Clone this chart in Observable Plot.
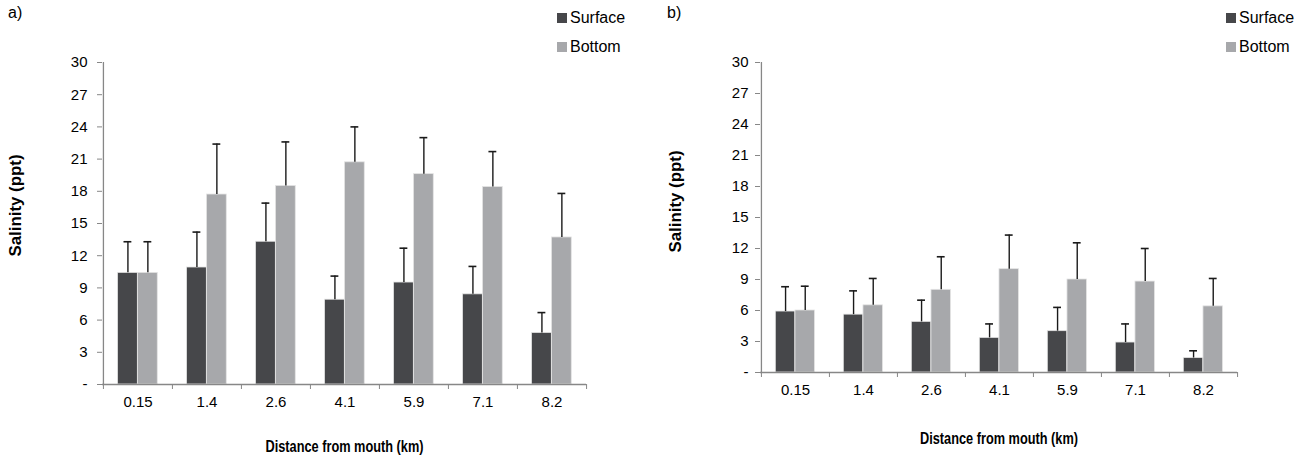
<!DOCTYPE html>
<html>
<head>
<meta charset="utf-8">
<script src="https://cdn.jsdelivr.net/npm/d3@7"></script>
<script src="https://cdn.jsdelivr.net/npm/@observablehq/plot@0.6"></script>
<style>
  html, body { margin: 0; padding: 0; background: #fff; }
  #wrap { position: relative; width: 1299px; height: 461px; font-family: "Liberation Sans", Arial, sans-serif; color: #000; overflow: hidden; }
  .panel { position: absolute; top: 0; }
  .plabel { position: absolute; font-size: 16px; line-height: 18px; }
  .leg { position: absolute; font-size: 16px; line-height: 18px; white-space: nowrap; }
  .sw { position: absolute; width: 10px; height: 10px; }
</style>
</head>
<body>
<div id="wrap"></div>
<script>
// ---- data ----
const categories = ["0.15", "1.4", "2.6", "4.1", "5.9", "7.1", "8.2"];
const yTicks = [0, 3, 6, 9, 12, 15, 18, 21, 24, 27, 30];
const seriesNames = ["Surface", "Bottom"];
const yTitle = "Salinity (ppt)";
const xTitle = "Distance from mouth (km)";

// panel a
const surfaceA    = [10.4, 10.9, 13.3, 7.9, 9.5, 8.4, 4.8];
const surfaceErrA = [2.9, 3.3, 3.6, 2.2, 3.2, 2.6, 1.9];
const bottomA     = [10.4, 17.7, 18.5, 20.7, 19.6, 18.4, 13.7];
const bottomErrA  = [2.9, 4.7, 4.1, 3.3, 3.4, 3.3, 4.1];

// panel b
const surfaceB    = [5.9, 5.6, 4.9, 3.35, 4.0, 2.9, 1.4];
const surfaceErrB = [2.4, 2.3, 2.1, 1.35, 2.3, 1.8, 0.7];
const bottomB     = [6.0, 6.5, 8.0, 10.0, 9.0, 8.8, 6.4];
const bottomErrB  = [2.35, 2.6, 3.2, 3.3, 3.55, 3.2, 2.7];

const SURF = "#46474a";
const BOT = "#a7a8ab";
const AX = "#878787";

function panel(o) {
  const step = (o.width - o.ml - o.mr) / categories.length;
  const pad = 0.21 * step, w = 0.2885 * step;
  const rows = (vals, errs) => categories.map((c, i) => ({cat: c, value: vals[i], top: vals[i] + errs[i]}));
  const s = rows(o.surface, o.surfaceErr), b = rows(o.bottom, o.bottomErr);
  const sc = pad + w / 2, bc = pad + 1.5 * w;
  const frameMid = o.mt + (o.height - o.mt - o.mb) / 2;
  const svg = Plot.plot({
    width: o.width, height: o.height,
    marginLeft: o.ml, marginRight: o.mr, marginTop: o.mt, marginBottom: o.mb,
    style: {fontFamily: "'Liberation Sans', Arial, sans-serif", fontSize: "15px", color: "#000", background: "white", overflow: "visible"},
    x: {type: "band", domain: categories, padding: 0, axis: null},
    y: {domain: [0, 30], axis: null},
    marks: [
      Plot.barY(s, {x: "cat", y: "value", fill: SURF, stroke: "#e4e4e4", strokeWidth: 0.8, insetLeft: pad, insetRight: step - pad - w}),
      Plot.barY(b, {x: "cat", y: "value", fill: BOT, stroke: "#e4e4e4", strokeWidth: 0.8, insetLeft: pad + w, insetRight: step - pad - 2 * w}),
      Plot.ruleX(s, {x: "cat", y1: "value", y2: "top", dx: sc - step / 2, stroke: "#1a1a1a", strokeWidth: 1.4}),
      Plot.tickY(s, {x: "cat", y: "top", insetLeft: sc - 4, insetRight: step - sc - 4, stroke: "#1a1a1a", strokeWidth: 1.6}),
      Plot.ruleX(b, {x: "cat", y1: "value", y2: "top", dx: bc - step / 2, stroke: "#1a1a1a", strokeWidth: 1.4}),
      Plot.tickY(b, {x: "cat", y: "top", insetLeft: bc - 4, insetRight: step - bc - 4, stroke: "#1a1a1a", strokeWidth: 1.6}),
      Plot.ruleY([0], {stroke: AX, strokeWidth: 1.3}),
      Plot.ruleX([categories[0]], {dx: -step / 2, y1: 0, y2: 30, stroke: AX, strokeWidth: 1.3}),
      Plot.axisY({ticks: yTicks, tickSize: 5, stroke: AX, tickFormat: () => "", label: null}),
      Plot.axisY({ticks: yTicks, tickSize: 0, tickPadding: o.yPad, tickFormat: d => d === 0 ? "-" : String(d), fill: "#000", fontSize: 15, label: null}),
      Plot.axisX({tickSize: 5, dx: -step / 2, stroke: AX, tickFormat: () => "", label: null}),
      Plot.axisX({ticks: [categories[categories.length - 1]], tickSize: 5, dx: step / 2, stroke: AX, tickFormat: () => "", label: null}),
      Plot.axisX({tickSize: 0, tickPadding: 12, fill: "#000", fontSize: 15, label: null}),
      Plot.text([yTitle], {frameAnchor: "left", rotate: -90, dx: o.yTitleDx, dy: o.yTitleY - frameMid, textAnchor: "middle", lineAnchor: "middle", fontWeight: "bold", fontSize: 16, fill: "#000"}),
      Plot.text([xTitle], {frameAnchor: "bottom", dy: o.xTitleDy, textAnchor: "middle", lineAnchor: "middle", fontWeight: "bold", fontSize: 16, fill: "#000"})
    ]
  });
  // the reference draws the axis titles in a condensed bold face
  d3.select(svg).selectAll("text").each(function () {
    if (this.textContent === xTitle) {
      this.setAttribute("textLength", o.xTitleLen);
      this.setAttribute("lengthAdjust", "spacingAndGlyphs");
    } else if (this.textContent === yTitle) {
      this.setAttribute("textLength", o.yTitleLen);
      this.setAttribute("lengthAdjust", "spacingAndGlyphs");
    }
  });
  return svg;
}

const wrap = document.getElementById("wrap");

function addPanel(left, o, label, labelX, legX) {
  const d = document.createElement("div");
  d.className = "panel";
  d.style.left = left + "px";
  d.appendChild(panel(o));
  wrap.appendChild(d);
  const l = document.createElement("div");
  l.className = "plabel";
  l.style.left = labelX + "px";
  l.style.top = "4px";
  l.textContent = label;
  wrap.appendChild(l);
  [[SURF, seriesNames[0], 13], [BOT, seriesNames[1], 42]].forEach(([c, t, top]) => {
    const sw = document.createElement("div");
    sw.className = "sw";
    sw.style.left = legX + "px";
    sw.style.top = top + "px";
    sw.style.background = c;
    wrap.appendChild(sw);
    const g = document.createElement("div");
    g.className = "leg";
    g.style.left = (legX + 13) + "px";
    g.style.top = (top - 4) + "px";
    g.textContent = t;
    wrap.appendChild(g);
  });
}

addPanel(0, {width: 650, height: 461, ml: 102, mr: 64, mt: 62, mb: 77,
  surface: surfaceA, surfaceErr: surfaceErrA, bottom: bottomA, bottomErr: bottomErrA,
  yPad: 15, yTitleDx: -87, yTitleY: 205, yTitleLen: 102, xTitleDy: 62, xTitleLen: 158}, "a)", 8, 557);

addPanel(650, {width: 649, height: 461, ml: 110, mr: 62, mt: 62, mb: 89,
  surface: surfaceB, surfaceErr: surfaceErrB, bottom: bottomB, bottomErr: bottomErrB,
  yPad: 12, yTitleDx: -84.5, yTitleY: 201, yTitleLen: 102, xTitleDy: 66, xTitleLen: 158}, "b)", 667, 1226);
</script>
</body>
</html>
